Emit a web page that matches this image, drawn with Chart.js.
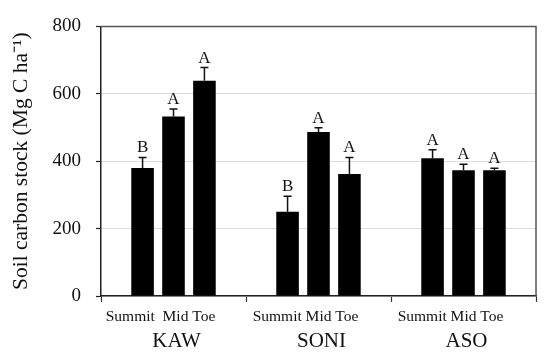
<!DOCTYPE html>
<html>
<head>
<meta charset="utf-8">
<script src="https://cdn.jsdelivr.net/npm/chart.js@4/dist/chart.umd.min.js"></script>
<style>
  html, body { margin: 0; padding: 0; background: #fff; }
  #wrap { width: 550px; height: 360px; }
</style>
</head>
<body>
<div id="wrap"><canvas id="c" width="550" height="360"></canvas></div>
<script>
// ---- data ----
const sites = ['KAW', 'SONI', 'ASO'];
const positionLabels = ['Summit\u00a0\u00a0Mid Toe', 'Summit Mid Toe', 'Summit Mid Toe'];
const seriesNames = ['Summit', 'Mid', 'Toe'];
const summitValues = [380, 250, 409];
const midValues = [533, 487, 373];
const toeValues = [639, 362, 373];
const summitSE = [31, 46, 25];
const midSE = [22, 12, 18];
const toeSE = [39, 49, 6];
const summitLetters = ['B', 'B', 'A'];
const midLetters = ['A', 'A', 'A'];
const toeLetters = ['A', 'A', 'A'];
const yTicks = [0, 200, 400, 600, 800];

const SERIF = '"Liberation Serif", "Times New Roman", serif';

const errorPlugin = {
  id: 'errorLetters',
  afterDatasetsDraw(chart) {
    const ctx = chart.ctx;
    const y = chart.scales.y;
    ctx.save();
    chart.data.datasets.forEach((ds, i) => {
      const meta = chart.getDatasetMeta(i);
      meta.data.forEach((el, j) => {
        const v = ds.data[j];
        const top = y.getPixelForValue(v + ds.se[j]);
        ctx.strokeStyle = '#111';
        ctx.lineWidth = 1.5;
        ctx.beginPath();
        ctx.moveTo(el.x, el.y);
        ctx.lineTo(el.x, top);
        ctx.moveTo(el.x - 4, top);
        ctx.lineTo(el.x + 4, top);
        ctx.stroke();
        ctx.fillStyle = '#111';
        ctx.font = '17px ' + SERIF;
        ctx.textAlign = 'center';
        ctx.textBaseline = 'alphabetic';
        ctx.fillText(ds.letters[j], el.x, top - 5);
      });
    });
    ctx.restore();
  },
  afterDraw(chart) {
    const a = chart.chartArea;
    const ctx = chart.ctx;
    ctx.save();
    ctx.strokeStyle = '#555';
    ctx.lineWidth = 1.5;
    ctx.beginPath();
    ctx.moveTo(a.left, a.top);
    ctx.lineTo(a.right, a.top);
    ctx.lineTo(a.right, a.bottom);
    ctx.stroke();
    ctx.restore();
  }
};

const mk = (label, data, se, letters) => ({
  label, data, se, letters,
  backgroundColor: '#000',
  borderColor: '#000',
  borderWidth: 0,
  barPercentage: 0.73,
  categoryPercentage: 0.64,
  xAxisID: 'x'
});

new Chart(document.getElementById('c'), {
  type: 'bar',
  data: {
    labels: sites,
    datasets: [
      mk(seriesNames[0], summitValues, summitSE, summitLetters),
      mk(seriesNames[1], midValues, midSE, midLetters),
      mk(seriesNames[2], toeValues, toeSE, toeLetters)
    ]
  },
  options: {
    responsive: false,
    animation: false,
    devicePixelRatio: 1,
    layout: { padding: { top: 23, right: 14, left: 0, bottom: 0 } },
    plugins: { legend: { display: false }, tooltip: { enabled: false } },
    scales: {
      x: {
        type: 'category',
        position: 'bottom',
        offset: true,
        afterFit: (s) => { s.height = 30; },
        grid: { offset: true, drawOnChartArea: false, drawTicks: true, tickLength: 6, tickColor: '#333', tickWidth: 1.2 },
        border: { display: true, color: '#222', width: 1.5 },
        ticks: {
          color: '#111',
          font: { family: SERIF, size: 15.5 },
          padding: 6,
          labelOffset: -13,
          maxRotation: 0,
          autoSkip: false,
          callback: (v, i) => positionLabels[i]
        }
      },
      x2: {
        type: 'category',
        position: 'bottom',
        offset: true,
        afterFit: (s) => { s.height = 34; },
        grid: { display: false },
        border: { display: false },
        ticks: {
          color: '#111',
          font: { family: SERIF, size: 21 },
          padding: -5,
          labelOffset: 3,
          maxRotation: 0,
          autoSkip: false
        }
      },
      y: {
        min: 0,
        max: 800,
        afterBuildTicks: (s) => { s.ticks = yTicks.map(v => ({ value: v })); },
        afterFit: (s) => { s.width = 101; },
        grid: { color: '#dcdcdc', lineWidth: 1, tickLength: 5, tickColor: '#222', tickWidth: 1.2 },
        border: { display: true, color: '#222', width: 1.5 },
        ticks: {
          color: '#111',
          font: { family: SERIF, size: 19 },
          padding: 15
        },
        title: {
          display: true,
          text: 'Soil carbon stock (Mg C ha\u207B\u00B9)',
          color: '#111',
          font: { family: SERIF, size: 21.5 },
          padding: { top: 8, bottom: 0 }
        }
      }
    }
  },
  plugins: [errorPlugin]
});
</script>
</body>
</html>
